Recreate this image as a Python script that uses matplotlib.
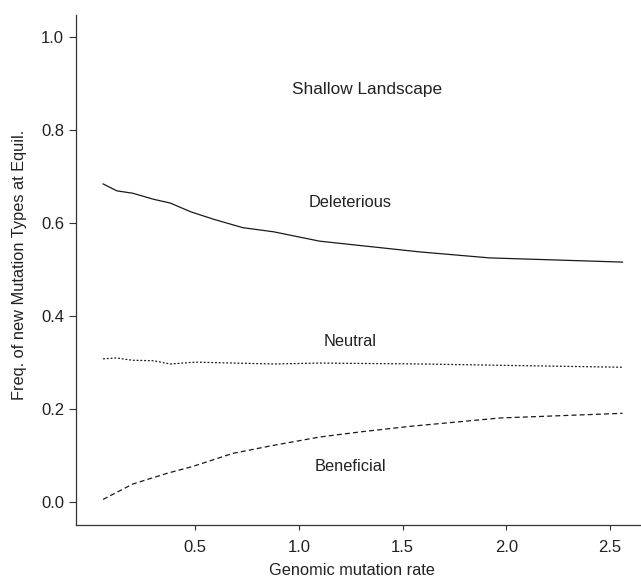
import matplotlib
matplotlib.use('Agg')
import matplotlib.pyplot as plt

plt.rcParams['font.family'] = ['Liberation Sans', 'DejaVu Sans']

# values
del_x = [0.057, 0.124, 0.2, 0.3, 0.38, 0.48, 0.59, 0.73, 0.88, 1.1, 1.58, 1.92, 2.56]
del_y = [0.684, 0.669, 0.664, 0.651, 0.643, 0.624, 0.608, 0.59, 0.581, 0.561, 0.538, 0.525, 0.516]

neu_x = [0.057, 0.12, 0.2, 0.3, 0.38, 0.5, 0.88, 1.1, 1.6, 2.0, 2.56]
neu_y = [0.308, 0.31, 0.305, 0.304, 0.297, 0.301, 0.297, 0.299, 0.297, 0.294, 0.29]

ben_x = [0.057, 0.2, 0.365, 0.49, 0.683, 0.876, 1.1, 1.295, 1.536, 1.97, 2.56]
ben_y = [0.006, 0.039, 0.062, 0.077, 0.105, 0.122, 0.14, 0.151, 0.163, 0.181, 0.191]

xticks = [0.5, 1.0, 1.5, 2.0, 2.5]
yticks = [0.0, 0.2, 0.4, 0.6, 0.8, 1.0]

fig = plt.figure(figsize=(6.41, 5.82), dpi=100)
ax = fig.add_axes([76 / 641, 57 / 582, 565 / 641, 510 / 582])

col = '#1a1a1a'
ax.plot(del_x, del_y, color=col, lw=0.9, linestyle='-')
ax.plot(neu_x, neu_y, color=col, lw=0.9, linestyle=(0, (1.5, 1.5)))
ax.plot(ben_x, ben_y, color=col, lw=0.9, linestyle=(0, (4, 2.5)))

ax.set_xlim(-0.0735, 2.649)
ax.set_ylim(-0.049, 1.047)
ax.set_xticks(xticks)
ax.set_yticks(yticks)
ax.set_xticklabels([f'{v:.1f}' for v in xticks])
ax.set_yticklabels([f'{v:.1f}' for v in yticks])

for s in ['top', 'right']:
    ax.spines[s].set_visible(False)
for s in ['left', 'bottom']:
    ax.spines[s].set_color('#333333')
    ax.spines[s].set_linewidth(0.9)

tc = '#222222'
ax.tick_params(axis='y', length=5, width=0.8, color='#333333', labelsize=12, labelcolor=tc, pad=3.5)
ax.tick_params(axis='x', length=3.5, width=0.8, color='#333333', labelsize=12, labelcolor=tc, pad=7)

ax.text(1.331, 0.877, 'Shallow Landscape', ha='center', va='baseline', fontsize=12.4, color=tc)
ax.text(1.249, 0.634, 'Deleterious', ha='center', va='baseline', fontsize=11.8, color=tc)
ax.text(1.249, 0.335, 'Neutral', ha='center', va='baseline', fontsize=11.8, color=tc)
ax.text(1.249, 0.067, 'Beneficial', ha='center', va='baseline', fontsize=11.8, color=tc)

ax.set_xlabel('Genomic mutation rate', fontsize=11.8, color=tc)
ax.set_ylabel('Freq. of new Mutation Types at Equil.', fontsize=11.8, color=tc)
ax.xaxis.set_label_coords(0.488, -0.0745)
ax.yaxis.set_label_coords(-0.086, 0.511)

fig.savefig('out.png', dpi=100)
